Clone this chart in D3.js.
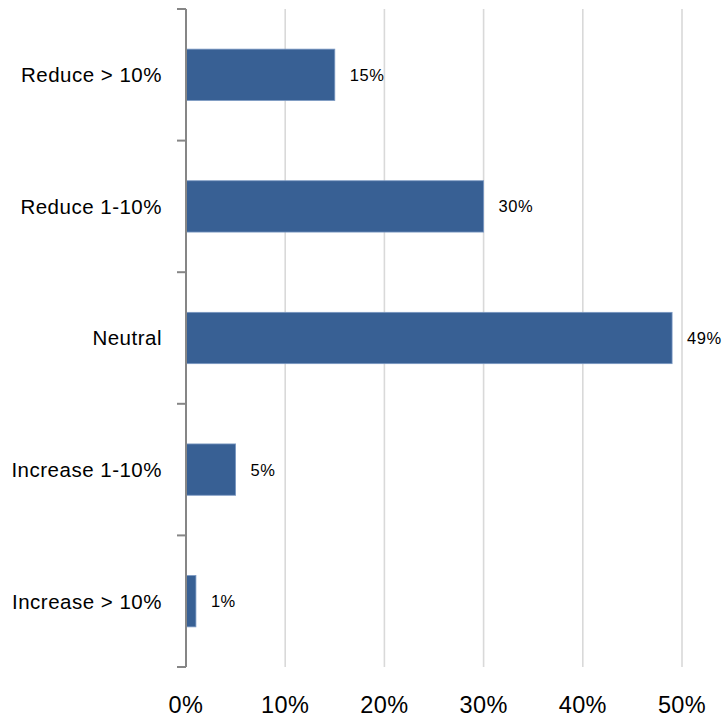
<!DOCTYPE html>
<html>
<head>
<meta charset="utf-8">
<script src="https://cdn.jsdelivr.net/npm/d3@7"></script>
<style>
  html, body { margin: 0; padding: 0; background: #ffffff; }
  svg { display: block; font-family: "Liberation Sans", Arial, sans-serif; }
</style>
</head>
<body>
<svg id="chart" width="726" height="718"></svg>
<script>
// Expected change in spending, share of respondents
const categories = ["Reduce > 10%", "Reduce 1-10%", "Neutral", "Increase 1-10%", "Increase > 10%"];
const shares = [0.15, 0.30, 0.49, 0.05, 0.01];
const xTicks = [0, 0.1, 0.2, 0.3, 0.4, 0.5];

const svg = d3.select("#chart");
const plotLeft = 186, plotRight = 682, plotTop = 9, plotBottom = 667;

const x = d3.scaleLinear().domain([0, 0.5]).range([plotLeft, plotRight]);
const y = d3.scaleBand().domain(categories).range([plotTop, plotBottom]).paddingInner(0.61).paddingOuter(0.305);
const band = d3.scaleBand().domain(categories).range([plotTop, plotBottom]);
const pct = d3.format(".0%");

// vertical gridlines
svg.append("g")
  .selectAll("line")
  .data(xTicks.filter(d => d > 0))
  .join("line")
  .attr("x1", d => x(d)).attr("x2", d => x(d))
  .attr("y1", plotTop).attr("y2", plotBottom)
  .attr("stroke", "#d9d9d9")
  .attr("stroke-width", 1.6);

// bars
svg.append("g")
  .selectAll("rect")
  .data(categories)
  .join("rect")
  .attr("x", x(0))
  .attr("y", d => y(d))
  .attr("width", (d, i) => x(shares[i]) - x(0))
  .attr("height", y.bandwidth())
  .attr("fill", "#386094")
  .attr("stroke", "#7a98c2")
  .attr("stroke-width", 0.8);

// value labels
svg.append("g")
  .selectAll("text")
  .data(categories)
  .join("text")
  .attr("x", (d, i) => x(shares[i]) + 15)
  .attr("y", d => y(d) + y.bandwidth() / 2)
  .attr("dy", "0.36em")
  .attr("font-size", 16.5)
  .attr("letter-spacing", 0.5)
  .attr("fill", "#000")
  .text((d, i) => pct(shares[i]));

// category axis with tick marks between categories
const yAxis = svg.append("g");
yAxis.append("line")
  .attr("x1", plotLeft).attr("x2", plotLeft)
  .attr("y1", plotTop).attr("y2", plotBottom)
  .attr("stroke", "#868686").attr("stroke-width", 2);
const boundaries = categories.map(c => band(c)).concat([plotBottom]);
yAxis.selectAll("line.tick")
  .data(boundaries)
  .join("line")
  .attr("class", "tick")
  .attr("x1", plotLeft - 9).attr("x2", plotLeft)
  .attr("y1", d => d).attr("y2", d => d)
  .attr("stroke", "#868686").attr("stroke-width", 2);
yAxis.selectAll("text")
  .data(categories)
  .join("text")
  .attr("x", 162)
  .attr("y", d => band(d) + band.bandwidth() / 2)
  .attr("dy", "0.36em")
  .attr("text-anchor", "end")
  .attr("font-size", 20.5)
  .attr("letter-spacing", 0.5)
  .attr("fill", "#000")
  .text(d => d);

// percentage axis labels
svg.append("g")
  .selectAll("text")
  .data(xTicks)
  .join("text")
  .attr("x", d => x(d))
  .attr("y", 713)
  .attr("text-anchor", "middle")
  .attr("font-size", 23.5)
  .attr("letter-spacing", 0.4)
  .attr("fill", "#000")
  .text(d => pct(d));
</script>
</body>
</html>
